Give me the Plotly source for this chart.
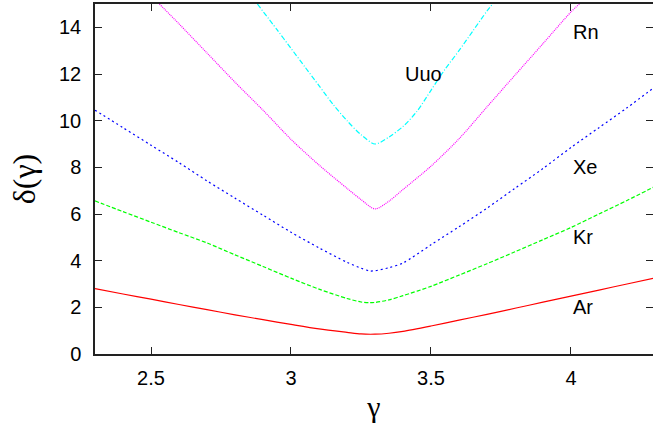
import plotly.graph_objects as go

# ---- data ----
g_ar = [2.3, 2.4, 2.5, 2.6, 2.7, 2.8, 2.9, 3.0, 3.1, 3.2, 3.25, 3.3, 3.35, 3.4, 3.5, 3.6, 3.7, 3.8, 3.9, 4.0, 4.1, 4.2, 4.3]
d_ar = [2.80, 2.57, 2.35, 2.12, 1.90, 1.68, 1.47, 1.27, 1.08, 0.93, 0.86, 0.85, 0.89, 0.97, 1.20, 1.45, 1.70, 1.96, 2.22, 2.48, 2.74, 3.00, 3.26]

g_kr = [2.3, 2.4, 2.5, 2.6, 2.7, 2.8, 2.9, 3.0, 3.1, 3.2, 3.25, 3.28, 3.3, 3.35, 3.4, 3.5, 3.6, 3.7, 3.8, 3.9, 4.0, 4.1, 4.2, 4.3]
d_kr = [6.56, 6.10, 5.65, 5.20, 4.76, 4.25, 3.75, 3.25, 2.78, 2.38, 2.23, 2.20, 2.21, 2.32, 2.50, 2.90, 3.38, 3.87, 4.38, 4.90, 5.42, 6.00, 6.58, 7.18]

g_xe = [2.3, 2.4, 2.5, 2.6, 2.7, 2.8, 2.9, 3.0, 3.1, 3.2, 3.25, 3.28, 3.3, 3.35, 3.4, 3.5, 3.6, 3.7, 3.8, 3.9, 4.0, 4.1, 4.2, 4.3]
d_xe = [10.45, 9.70, 8.95, 8.20, 7.42, 6.68, 5.95, 5.22, 4.55, 3.93, 3.68, 3.56, 3.57, 3.70, 3.90, 4.68, 5.45, 6.25, 7.10, 7.95, 8.85, 9.70, 10.55, 11.45]

g_rn = [2.53, 2.6, 2.7, 2.8, 2.9, 3.0, 3.1, 3.2, 3.25, 3.3, 3.35, 3.4, 3.5, 3.6, 3.7, 3.8, 3.9, 4.0, 4.03]
d_rn = [15.0, 14.15, 12.9, 11.65, 10.45, 9.2, 8.1, 7.1, 6.62, 6.22, 6.55, 7.05, 8.05, 9.22, 10.59, 11.95, 13.3, 14.66, 15.0]

g_uuo = [2.88, 2.95, 3.0, 3.05, 3.1, 3.15, 3.2, 3.25, 3.3, 3.35, 3.4, 3.45, 3.5, 3.55, 3.6, 3.65, 3.7, 3.72]
d_uuo = [15.0, 13.9, 13.1, 12.3, 11.5, 10.7, 10.0, 9.4, 9.0, 9.3, 9.75, 10.4, 11.3, 12.2, 13.0, 13.85, 14.7, 15.0]

labels = ["Ar", "Kr", "Xe", "Rn", "Uuo"]
label_x = [4.0, 4.0, 4.0, 4.0, 3.4]
label_y = [2.0, 5.0, 8.0, 13.8, 12.0]

x_tickvals = [2.5, 3.0, 3.5, 4.0]
x_ticktext = ["2.5", "3", "3.5", "4"]
y_tickvals = [0, 2, 4, 6, 8, 10, 12, 14]
y_ticktext = ["0", "2", "4", "6", "8", "10", "12", "14"]

series = [
    (g_ar, d_ar, "#ff0000", "solid"),
    (g_kr, d_kr, "#00ff00", "4px,2px"),
    (g_xe, d_xe, "#0000ff", "2px,3px"),
    (g_rn, d_rn, "#ff00ff", "1px,1px"),
    (g_uuo, d_uuo, "#00ffff", "5px,2px,1px,2px"),
]

fig = go.Figure()
for (gx, dy, col, dash), name in zip(series, labels):
    fig.add_trace(go.Scatter(x=gx, y=dy, mode="lines", name=name,
                             line=dict(color=col, width=1.2, dash=dash, shape="spline", smoothing=0.8),
                             showlegend=False, hoverinfo="skip"))

# invisible trace to anchor the right-side mirror ticks
fig.add_trace(go.Scatter(x=[g_ar[0]], y=[d_ar[0]], yaxis="y2", mode="lines",
                         line=dict(color="rgba(0,0,0,0)"), showlegend=False, hoverinfo="skip"))

for t, lx, ly in zip(labels, label_x, label_y):
    fig.add_annotation(x=lx, y=ly, text=t, showarrow=False, xanchor="left", yanchor="middle",
                       font=dict(family="Liberation Sans, Arial, sans-serif", size=20, color="black"))

tickfont = dict(family="Liberation Sans, Arial, sans-serif", size=20, color="black")

fig.update_layout(
    width=653, height=433, autosize=False,
    margin=dict(l=95, r=0, t=4, b=79),
    paper_bgcolor="white", plot_bgcolor="white",
    xaxis=dict(range=[2.3, 4.293], tickvals=x_tickvals, ticktext=x_ticktext,
               ticks="inside", ticklen=7, tickwidth=1, tickcolor="#222",
               showline=True, linecolor="#222", linewidth=1.5, mirror="ticks",
               showgrid=False, zeroline=False, tickfont=tickfont, ticklabelstandoff=5,
               title=dict(text="γ", font=dict(family="Liberation Serif, serif", size=30, color="black"),
                          standoff=8)),
    yaxis=dict(range=[0, 15], tickvals=y_tickvals, ticktext=y_ticktext,
               ticks="inside", ticklen=7, tickwidth=1, tickcolor="#222",
               showline=True, linecolor="#222", linewidth=1.5,
               showgrid=False, zeroline=False, tickfont=tickfont, ticklabelstandoff=8,
               title=dict(text="δ(γ)", font=dict(family="Liberation Serif, serif", size=32, color="black"),
                          standoff=14)),
    yaxis2=dict(range=[0, 15], overlaying="y", side="right", tickvals=y_tickvals,
                ticks="inside", ticklen=7, tickwidth=1, tickcolor="#222",
                showticklabels=False, showline=False, showgrid=False, zeroline=False),
)

post = ("document.body.style.margin='0';document.body.style.overflow='hidden';"
        "var gd=document.getElementById('{plot_id}');"
        "Plotly.relayout(gd,{width:653,height:433});")

fig.write_html("out.html", config={"responsive": False, "displayModeBar": False}, post_script=post)
